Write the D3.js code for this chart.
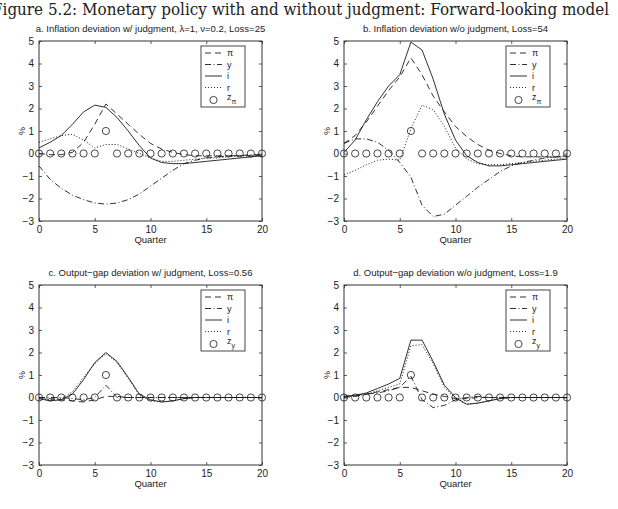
<!DOCTYPE html>
<html>
<head>
<meta charset="utf-8">
<script src="https://cdn.jsdelivr.net/npm/d3@7"></script>
<style>
  body { margin: 0; background: #fff; }
  svg { display: block; }
  text { font-family: "Liberation Sans", Arial, sans-serif; fill: #222; }
</style>
</head>
<body>
<svg id="chart" width="618" height="509"></svg>
<script>
// ---------- data ----------
const quarters = [0,1,2,3,4,5,6,7,8,9,10,11,12,13,14,15,16,17,18,19,20];
const xTicks = [0, 5, 10, 15, 20];
const yTicks = [-3, -2, -1, 0, 1, 2, 3, 4, 5];

const figureTitle = "Figure 5.2: Monetary policy with and without judgment: Forward-looking model";
const panelTitles = [
  "a. Inflation deviation w/ judgment, \u03bb=1, \u03bd=0.2, Loss=25",
  "b. Inflation deviation w/o judgment, Loss=54",
  "c. Output\u2212gap deviation w/ judgment, Loss=0.56",
  "d. Output\u2212gap deviation w/o judgment, Loss=1.9"
];
const zSubscripts = ["\u03c0", "\u03c0", "y", "y"];

// panel a
const piA = [0,-0.05,-0.05,0.05,0.5,1.3,2.2,1.75,1.3,0.85,0.45,0.2,0.05,-0.05,-0.1,-0.1,-0.1,-0.1,-0.1,-0.1,-0.1];
const yA  = [-0.55,-1.15,-1.55,-1.85,-2.05,-2.2,-2.25,-2.2,-2.05,-1.8,-1.45,-1.1,-0.75,-0.45,-0.3,-0.2,-0.15,-0.1,-0.1,-0.05,-0.05];
const iA  = [0.25,0.5,0.8,1.3,1.85,2.15,2.05,1.6,1.0,0.35,-0.2,-0.4,-0.45,-0.45,-0.4,-0.35,-0.3,-0.25,-0.2,-0.15,-0.1];
const rA  = [0.5,0.65,0.8,0.85,0.6,0.25,0.4,0.4,0.2,0.0,-0.2,-0.35,-0.35,-0.3,-0.25,-0.2,-0.2,-0.15,-0.1,-0.1,-0.05];
const zA  = [0,0,0,0,0,0,1,0,0,0,0,0,0,0,0,0,0,0,0,0,0];

// panel b
const piB = [0.45,0.8,1.4,2.1,2.8,3.4,4.25,3.5,2.55,1.85,1.2,0.75,0.4,0.15,0.0,-0.1,-0.15,-0.15,-0.15,-0.15,-0.15];
const yB  = [0.45,0.65,0.65,0.5,0.15,-0.4,-1.05,-2.3,-2.8,-2.7,-2.3,-1.9,-1.5,-1.15,-0.8,-0.55,-0.4,-0.3,-0.2,-0.15,-0.1];
const iB  = [0.05,0.6,1.5,2.3,3.0,3.5,4.95,4.6,3.3,1.75,0.6,-0.1,-0.4,-0.55,-0.55,-0.5,-0.45,-0.4,-0.35,-0.3,-0.25];
const rB  = [-0.95,-0.75,-0.5,-0.3,-0.25,-0.3,1.1,2.15,1.95,1.2,0.25,-0.25,-0.45,-0.5,-0.5,-0.45,-0.4,-0.35,-0.3,-0.25,-0.2];
const zB  = [0,0,0,0,0,0,1,0,0,0,0,0,0,0,0,0,0,0,0,0,0];

// panel c
const piC = [0,-0.05,-0.1,-0.15,-0.2,-0.1,0.05,0.05,0,0,0,0,0,0,0,0,0,0,0,0,0];
const yC  = [0,0,0,-0.05,-0.1,0,0.55,0,0,0,0,0,0,0,0,0,0,0,0,0,0];
const iC  = [-0.05,-0.15,-0.1,0.15,0.8,1.55,2.0,1.6,0.9,0.15,-0.1,-0.2,-0.15,-0.05,0,0,0,0,0,0,0];
const rC  = [-0.05,-0.1,-0.05,0.25,0.9,1.5,1.95,1.55,0.85,0.1,-0.15,-0.2,-0.15,-0.05,0,0,0,0,0,0,0];
const zC  = [0,0,0,0,0,0,1,0,0,0,0,0,0,0,0,0,0,0,0,0,0];

// panel d
const piD = [0,0.05,0.15,0.25,0.35,0.45,0.45,0.3,0.15,0.05,-0.05,-0.05,0,0,0,0,0,0,0,0,0];
const yD  = [0.05,0.1,0.15,0.2,0.3,0.45,0.95,-0.1,-0.45,-0.35,-0.1,0,0.05,0,0,0,0,0,0,0,0];
const iD  = [0.05,0.1,0.2,0.4,0.6,0.85,2.55,2.55,1.6,0.55,0,-0.3,-0.25,-0.15,-0.05,0,0,0,0,0,0];
const rD  = [0.05,0.05,0.15,0.3,0.45,0.6,2.3,2.35,1.5,0.45,-0.05,-0.3,-0.25,-0.15,-0.05,0,0,0,0,0,0];
const zD  = [0,0,0,0,0,0,1,0,0,0,0,0,0,0,0,0,0,0,0,0,0];

const panelData = [
  {pi: piA, y: yA, i: iA, r: rA, z: zA},
  {pi: piB, y: yB, i: iB, r: rB, z: zB},
  {pi: piC, y: yC, i: iC, r: rC, z: zC},
  {pi: piD, y: yD, i: iD, r: rD, z: zD}
];

// ---------- layout ----------
const svg = d3.select("#chart");
const lineColor = "#1a1a1a";
const styles = {
  pi: "6,4",
  y:  "6,2.5,1,2.5",
  i:  null,
  r:  "1,2"
};
const seriesOrder = ["pi", "y", "i", "r"];
const legendLabels = {pi: "\u03c0", y: "y", i: "i", r: "r"};

const boxes = [
  {x0: 39,  x1: 262, y0: 41,  y1: 221},
  {x0: 344, x1: 567, y0: 41,  y1: 221},
  {x0: 39,  x1: 262, y0: 285, y1: 465},
  {x0: 344, x1: 567, y0: 285, y1: 465}
];

// figure title (the reference shows it cropped at the left edge)
svg.append("text")
  .attr("x", -8).attr("y", 15)
  .attr("textLength", 617).attr("lengthAdjust", "spacingAndGlyphs")
  .style("font-family", "'DejaVu Serif', 'Liberation Serif', serif")
  .style("font-size", "16px")
  .text(figureTitle);

boxes.forEach((b, k) => {
  const d = panelData[k];
  const x = d3.scaleLinear().domain([0, 20]).range([b.x0, b.x1]);
  const y = d3.scaleLinear().domain([-3, 5]).range([b.y1, b.y0]);
  const g = svg.append("g");

  g.append("text")
    .attr("x", (b.x0 + b.x1) / 2).attr("y", b.y0 - 9)
    .attr("text-anchor", "middle")
    .style("font-size", "9.5px")
    .text(panelTitles[k]);

  const ax = g.append("g");
  ax.append("g").attr("transform", `translate(0,${b.y1})`)
    .call(d3.axisBottom(x).tickValues(xTicks).tickSizeInner(-3).tickSizeOuter(0).tickPadding(5));
  ax.append("g").attr("transform", `translate(0,${b.y0})`)
    .call(d3.axisTop(x).tickValues(xTicks).tickSizeInner(-3).tickSizeOuter(0).tickFormat(""));
  const left = ax.append("g").attr("transform", `translate(${b.x0},0)`)
    .call(d3.axisLeft(y).tickValues(yTicks).tickSizeInner(-3).tickSizeOuter(0).tickPadding(5));
  ax.append("g").attr("transform", `translate(${b.x1},0)`)
    .call(d3.axisRight(y).tickValues(yTicks).tickSizeInner(-3).tickSizeOuter(0).tickFormat(""));
  ax.selectAll(".domain").remove();
  ax.selectAll(".tick line").attr("stroke", "#333").attr("stroke-width", 0.8);
  ax.selectAll(".tick text")
    .style("font-family", "'Liberation Sans', Arial, sans-serif")
    .style("font-size", "10px").attr("fill", "#222");
  left.selectAll(".tick text").text(v => v < 0 ? "\u2212" + Math.abs(v) : v);

  g.append("rect")
    .attr("x", b.x0).attr("y", b.y0)
    .attr("width", b.x1 - b.x0).attr("height", b.y1 - b.y0)
    .attr("fill", "none").attr("stroke", "#333").attr("stroke-width", 1);

  g.append("text")
    .attr("x", (b.x0 + b.x1) / 2).attr("y", b.y1 + 22)
    .attr("text-anchor", "middle").style("font-size", "9.5px")
    .text("Quarter");
  g.append("text")
    .attr("transform", `translate(${b.x0 - 14},${(b.y0 + b.y1) / 2}) rotate(-90)`)
    .attr("text-anchor", "middle").style("font-size", "9px")
    .text("%");

  const line = d3.line().x((v, j) => x(quarters[j])).y(v => y(v));
  seriesOrder.forEach(s => {
    g.append("path")
      .datum(d[s])
      .attr("d", line)
      .attr("fill", "none")
      .attr("stroke", lineColor)
      .attr("stroke-width", s === "r" ? 1 : 0.9)
      .attr("stroke-dasharray", styles[s]);
  });
  g.selectAll("circle.z").data(d.z).enter().append("circle")
    .attr("class", "z")
    .attr("cx", (v, j) => x(quarters[j])).attr("cy", v => y(v))
    .attr("r", 3.6)
    .attr("fill", "none").attr("stroke", lineColor).attr("stroke-width", 0.8);

  const lx1 = b.x1 - 17, lx0 = lx1 - 44, ly0 = b.y0 + 5, ly1 = ly0 + 61;
  const lg = g.append("g");
  lg.append("rect")
    .attr("x", lx0).attr("y", ly0).attr("width", lx1 - lx0).attr("height", ly1 - ly0)
    .attr("fill", "#fff").attr("stroke", "#333").attr("stroke-width", 0.9);
  const rowY = j => ly0 + 7 + j * 11.5;
  seriesOrder.forEach((s, j) => {
    lg.append("line")
      .attr("x1", lx0 + 4).attr("x2", lx0 + 21)
      .attr("y1", rowY(j)).attr("y2", rowY(j))
      .attr("stroke", lineColor).attr("stroke-width", 0.9)
      .attr("stroke-dasharray", styles[s]);
    lg.append("text")
      .attr("x", lx0 + 26).attr("y", rowY(j) + 3)
      .style("font-size", "9px")
      .text(legendLabels[s]);
  });
  lg.append("circle")
    .attr("cx", lx0 + 12.5).attr("cy", rowY(4) + 1)
    .attr("r", 3.6).attr("fill", "none")
    .attr("stroke", lineColor).attr("stroke-width", 0.8);
  const zt = lg.append("text")
    .attr("x", lx0 + 26).attr("y", rowY(4) + 1)
    .style("font-size", "9px");
  zt.append("tspan").text("z");
  zt.append("tspan").attr("dy", 3.5).style("font-size", "7px").text(zSubscripts[k]);
});
</script>
</body>
</html>
